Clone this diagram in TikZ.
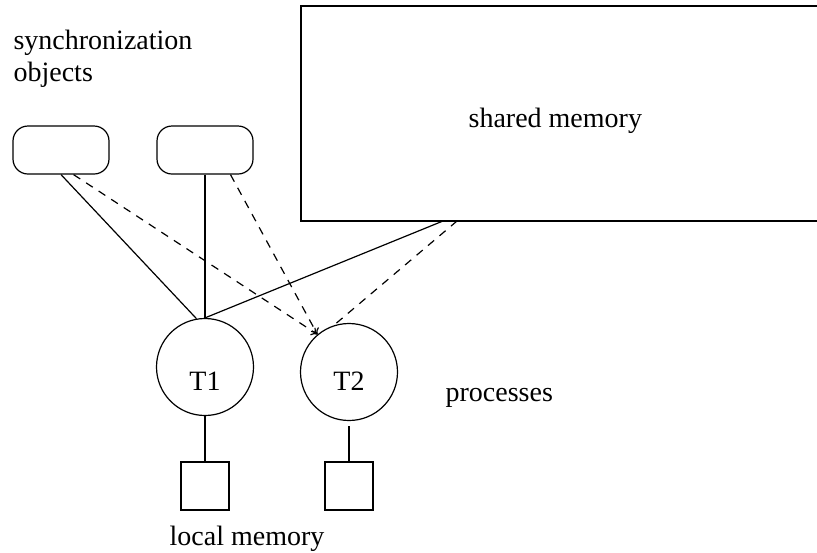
\documentclass[tikz,border=0pt]{standalone}
\usepackage{fontspec}
\setmainfont{Liberation Serif}
\usepackage{tikz}
\usetikzlibrary{
    positioning,
    arrows.meta
}
\tikzset{
    >={To[length=3pt,width=4.5pt]},
    sync/.style={
        draw,
        rounded corners=7.5pt,
        minimum width=48pt,
        minimum height=24pt
    },
    proc/.style={
        draw,
        circle,
        minimum size=48.5pt,
        inner sep=0pt
    },
    localmem/.style={
        draw,
        minimum size=24pt,
        inner sep=0pt
    },
    etiqueta/.style={
        inner sep=0pt,
        anchor=base west
    }
}

\begin{document}
\begin{tikzpicture}[
    x=0.5pt,
    y=-0.5pt,
    line width=0.6pt,
    font=\fontsize{14}{16}\selectfont
]
    \useasboundingbox (0,0) rectangle (817,552);

    % Objetos de sincronizacion
    \node[etiqueta, anchor=north west, align=left] (synclbl) at (13,29)
        {synchronization\\objects};
    \node[sync] (s1) at (61,150)  {};
    \node[sync] (s2) at (205,150) {};

    % Memoria compartida (sin borde derecho)
    \node[anchor=north west, outer sep=0pt,
          minimum width=264pt, minimum height=107.5pt] (sm) at (301,6) {};
    \draw (sm.north east) -- (sm.north west)
        -- (sm.south west) -- (sm.south east);
    \node[etiqueta] (smlbl) at (468,127) {shared memory};
    \coordinate (smA) at (443,221);
    \coordinate (smB) at (457,221);

    % Procesos
    \node[proc] (T1) at (205,367) {\raisebox{-11.5pt}[0pt][0pt]{T1}};
    \node[proc] (T2) at (349,372) {\raisebox{-9pt}[0pt][0pt]{T2}};
    \node[etiqueta] (proclbl) at (445,401) {processes};

    % Memoria local
    \node[localmem] (m1) at (205,486) {};
    \node[localmem] (m2) at (349,486) {};
    \node[etiqueta] (lmlbl) at (169,545) {local memory};

    % Accesos de T1
    \path
        (s1.south) edge (T1.100)
        (s2.south) edge (T1.north)
        (smA)      edge (T1.north)
        (T1.south) edge (m1.north)
        (T2.south) edge[shorten <=2.5pt] (m2.north);

    % Accesos de T2
    \path[dash pattern=on 4pt off 3.5pt]
        (s1.-63) edge[->] (T2.130)
        (s2.-44) edge[->] (T2.130)
        (smB)    edge     (T2.108);

\end{tikzpicture}
\end{document}
